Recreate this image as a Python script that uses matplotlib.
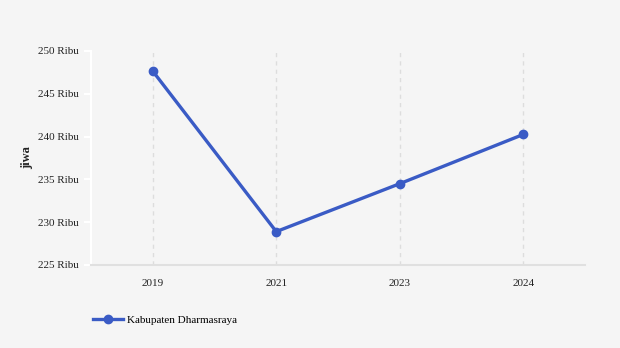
import matplotlib
matplotlib.use("Agg")
import matplotlib.pyplot as plt
from matplotlib.ticker import FuncFormatter

years = ["2019", "2021", "2023", "2024"]
values = [247.65, 228.9, 234.5, 240.25]  # ribu jiwa
series_name = "Kabupaten Dharmasraya"
y_ticks = [225, 230, 235, 240, 245, 250]

plt.rcParams['font.family'] = ['Liberation Serif', 'DejaVu Serif']

fig = plt.figure(figsize=(6.2, 3.48), dpi=100)
fig.patch.set_facecolor('#f5f5f5')
ax = fig.add_axes([91/620, 1-265/348, (585-91)/620, (265-51)/348])
ax.set_facecolor('#f5f5f5')

x = list(range(len(years)))
line, = ax.plot(x, values, color='#3a5bc5', linewidth=2.4, marker='o', markersize=6,
                label=series_name, zorder=3)

ax.set_xlim(-0.5, 3.5)
ax.set_ylim(225, 250)
ax.set_yticks(y_ticks)
ax.yaxis.set_major_formatter(FuncFormatter(lambda v, p: f"{int(v)} Ribu"))
ax.set_xticks(x)
ax.set_xticklabels(years)

ax.grid(axis='x', color='#dddddd', linestyle=(0, (3, 3)), linewidth=1)
ax.grid(axis='y', visible=False)
for s in ['top', 'right']:
    ax.spines[s].set_visible(False)
ax.spines['left'].set_color('white')
ax.spines['left'].set_linewidth(1.5)
ax.spines['bottom'].set_color('#e0e0e0')
ax.spines['bottom'].set_linewidth(1.5)
ax.tick_params(axis='y', colors='white', labelcolor='#222222', labelsize=8, length=5, width=1.5)
ax.tick_params(axis='x', length=0, labelcolor='#222222', labelsize=8, pad=10)
ax.set_ylabel('jiwa', fontsize=9, fontweight='bold', color='#222222', labelpad=4)

fig.legend(handles=[line], labels=[series_name], loc='center left',
           bbox_to_anchor=(83/620, 1-320/348), frameon=False, fontsize=8,
           handlelength=2.7, handletextpad=0.4)

fig.savefig('out.png', dpi=100, facecolor=fig.get_facecolor())
